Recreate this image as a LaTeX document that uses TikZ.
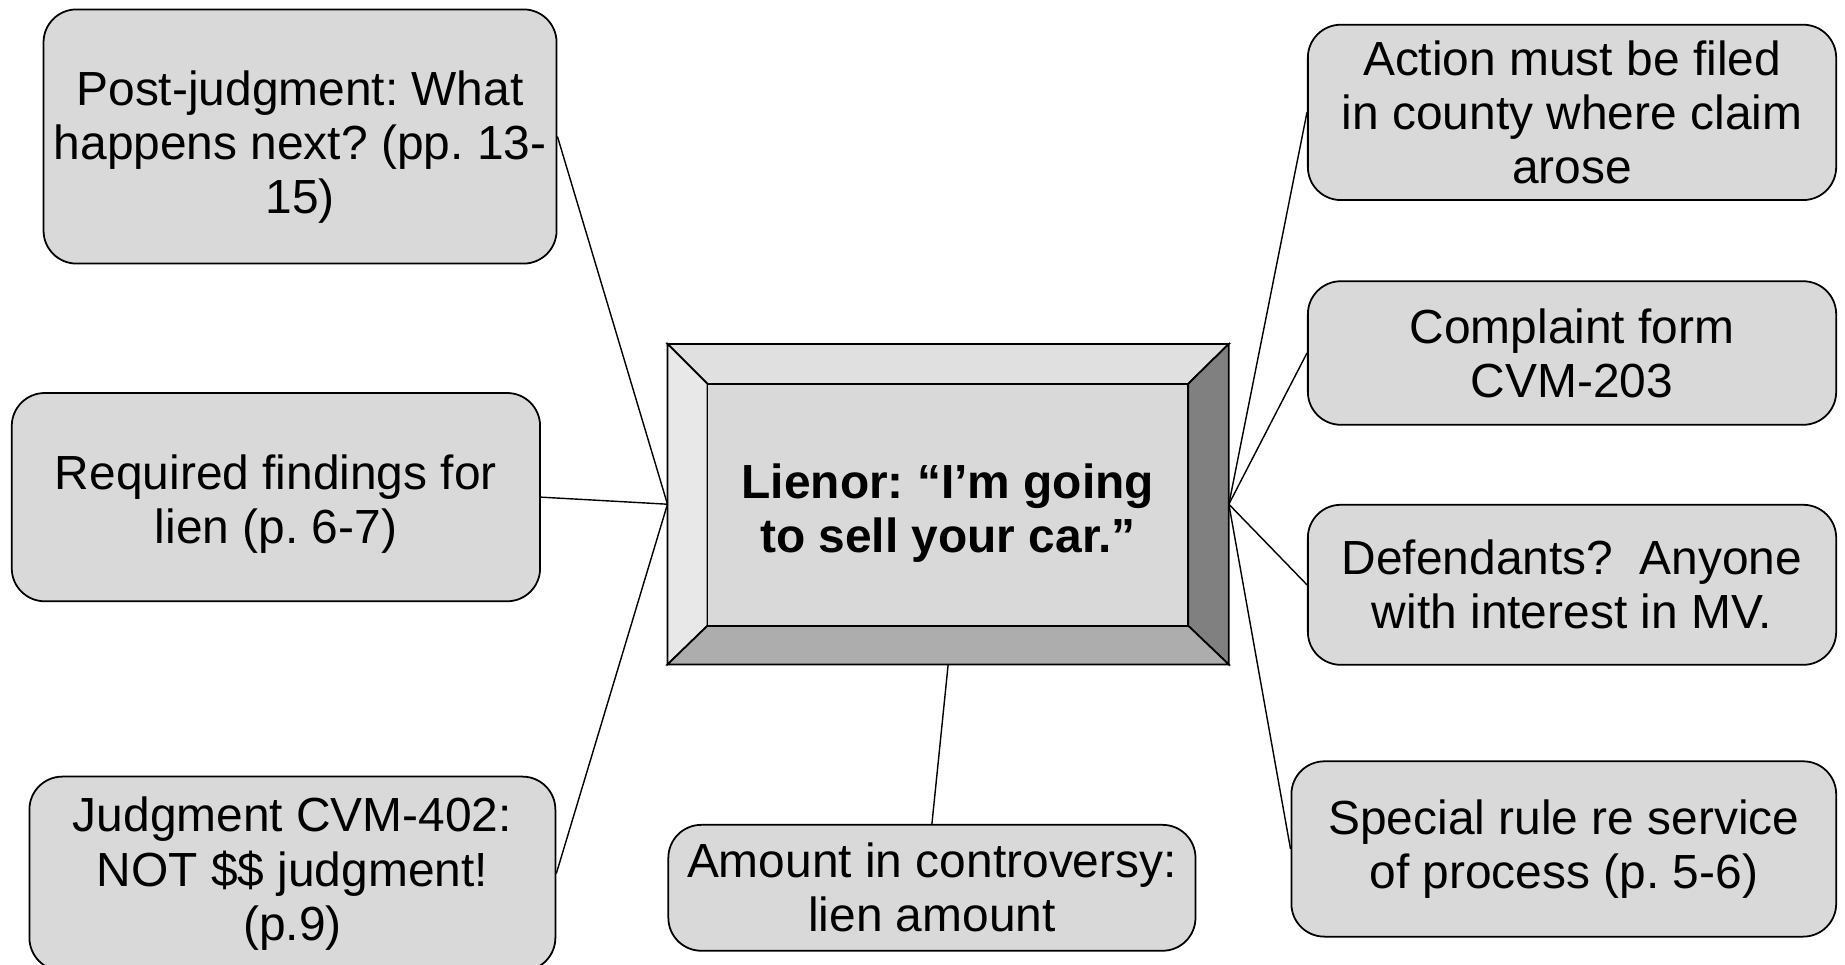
\documentclass[tikz,border=0pt]{standalone}
\usepackage{fontspec}
\setmainfont{Liberation Sans}
\usetikzlibrary{calc}
\definecolor{boxgray}{HTML}{D9D9D9}
\definecolor{bevtop}{HTML}{E0E0E0}
\definecolor{bevleft}{HTML}{E8E8E8}
\definecolor{bevright}{HTML}{808080}
\definecolor{bevbottom}{HTML}{ADADAD}
\frenchspacing
\begin{document}
\frenchspacing
\begin{tikzpicture}[x=0.5pt,y=-0.5pt,
  tbox/.style={draw=black, line width=0.75pt, fill=boxgray, rounded corners=14pt,
    align=center, inner sep=0pt, font=\fontsize{20.35pt}{23pt}\selectfont},
  ttext/.style={align=center, inner sep=0pt, font=\fontsize{20.35pt}{23pt}\selectfont},
  link/.style={draw=black, line width=0.6pt},
  face/.style={draw=black, line width=0.75pt, line join=miter}]
\useasboundingbox (0,0) rectangle (1568,820);
% outer boxes
\node[tbox, minimum width=218pt, minimum height=108pt] (post) at (255,116) {};
\node[ttext] (postt) at (255,125)
  {Post-judgment: What\\happens next? (pp. 13-\\15)};
\node[tbox, minimum width=224.5pt, minimum height=88.5pt] (req) at (234.5,422.5) {};
\node[ttext] (reqt) at (234.5,428.5)
  {Required findings for\\lien (p. 6-7)};
\node[tbox, minimum width=223.5pt, minimum height=82.5pt] (judg) at (248.5,742.5)
  {Judgment CVM-402:\\NOT \$\$ judgment!\\(p.9)};
\node[tbox, minimum width=224pt, minimum height=53.5pt] (amt) at (792,754.5)
  {Amount in controversy:\\lien amount};
\node[tbox, minimum width=224.5pt, minimum height=74.5pt] (act) at (1336,95.5)
  {Action must be filed\\in county where claim\\arose};
\node[tbox, minimum width=224.5pt, minimum height=61pt] (comp) at (1336,300)
  {Complaint form\\CVM-203};
\node[tbox, minimum width=224.5pt, minimum height=68pt] (def) at (1336,497)
  {Defendants?\ \ Anyone\\with interest in MV.};
\node[tbox, minimum width=231.5pt, minimum height=74.5pt] (spec) at (1329,721.5)
  {Special rule re service\\of process (p. 5-6)};
% central bevelled box
\node[draw=black, line width=0.75pt, minimum width=237.8pt, minimum height=135.5pt, inner sep=0pt]
  (c) at (805.8,428.5) {};
\coordinate (inw) at ($(c.north west)+(34,34)$);
\coordinate (ine) at ($(c.north east)+(-34.6,34)$);
\coordinate (ise) at ($(c.south east)+(-34.6,-33)$);
\coordinate (isw) at ($(c.south west)+(34,-33)$);
\filldraw[face, fill=bevtop] (c.north west) -- (c.north east) -- (ine) -- (inw) -- cycle;
\filldraw[face, fill=bevleft] (c.north west) -- (inw) -- (isw) -- (c.south west) -- cycle;
\filldraw[face, fill=bevright] (c.north east) -- (c.south east) -- (ise) -- (ine) -- cycle;
\filldraw[face, fill=bevbottom] (c.south west) -- (isw) -- (ise) -- (c.south east) -- cycle;
\filldraw[face, fill=boxgray] (inw) rectangle (ise);
\node[ttext, font=\fontsize{20.35pt}{23pt}\selectfont\bfseries] (ctext) at (805.5,436)
  {Lienor: “I’m going\\to sell your car.”};
% connectors
\draw[link] (c.west) -- (post.east);
\draw[link] (c.west) -- (req.east);
\draw[link] (c.west) -- (judg.east);
\draw[link] (c.east) -- (act.west);
\draw[link] (c.east) -- (comp.west);
\draw[link] (c.east) -- (def.west);
\draw[link] (c.east) -- (spec.west);
\draw[link] (c.south) -- (amt.north);
\end{tikzpicture}
\end{document}
